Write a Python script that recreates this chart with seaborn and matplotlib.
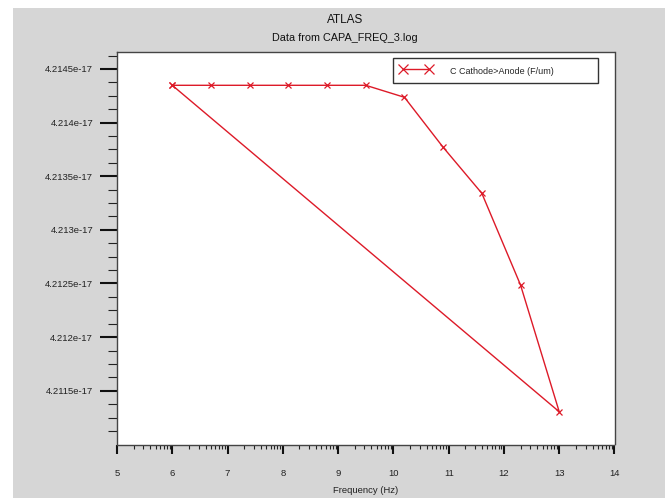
import numpy as np
import pandas as pd
import matplotlib
matplotlib.use("Agg")
import matplotlib.pyplot as plt
from matplotlib.ticker import FixedLocator, FuncFormatter
from matplotlib.patches import Rectangle
import seaborn as sns

# ---- data ----
freq = [6.0, 6.7, 7.4, 8.1, 8.8, 9.5, 10.2, 10.9, 11.6, 12.3, 13.0, 6.0]
cap = [4.214348e-17, 4.214348e-17, 4.214348e-17, 4.214348e-17, 4.214348e-17,
       4.214348e-17, 4.214236e-17, 4.213770e-17, 4.213341e-17, 4.212486e-17,
       4.211304e-17, 4.214348e-17]
series_label = "C Cathode>Anode (F/um)"
x_ticks = [5, 6, 7, 8, 9, 10, 11, 12, 13, 14]
y_ticks = [4.2115e-17, 4.212e-17, 4.2125e-17, 4.213e-17, 4.2135e-17, 4.214e-17, 4.2145e-17]
title = "ATLAS"
subtitle = "Data from CAPA_FREQ_3.log"
xlabel = "Frequency (Hz)"

df = pd.DataFrame({"freq": freq, "cap": cap})

sns.set_style("white")
plt.rcParams["font.family"] = ["Liberation Sans", "DejaVu Sans"]

W, H = 665, 498
fig = plt.figure(figsize=(W / 100, H / 100), dpi=100, facecolor="#d6d6d6")
# white strips at top/left as in the reference screenshot
fig.patches.append(Rectangle((0, 1 - 8 / H), 1, 8 / H, transform=fig.transFigure,
                             facecolor="white", edgecolor="none", zorder=-1))
fig.patches.append(Rectangle((0, 0), 13 / W, 1, transform=fig.transFigure,
                             facecolor="white", edgecolor="none", zorder=-1))

L, R, T, B = 117, 614.5, 52, 444.5
ax = fig.add_axes([L / W, 1 - B / H, (R - L) / W, (B - T) / H])
ax.set_facecolor("white")

red = "#dd1a28"
sns.lineplot(data=df, x="freq", y="cap", sort=False, estimator=None, ax=ax,
             color=red, lw=1.0, marker="x", markersize=5,
             markeredgecolor=red, markeredgewidth=0.9, label=series_label)

ax.set_xlim(5, 14)
ax.set_ylim(4.2109986e-17, 4.2146585e-17)

ax.xaxis.set_major_locator(FixedLocator(x_ticks))
ax.xaxis.set_minor_locator(FixedLocator(
    [n + np.log10(k) for n in x_ticks[:-1] for k in range(2, 10)]))
ax.xaxis.set_major_formatter(FuncFormatter(lambda v, p: f"{v:g}"))

step = (y_ticks[1] - y_ticks[0]) / 4
ax.yaxis.set_major_locator(FixedLocator(y_ticks))
ax.yaxis.set_minor_locator(FixedLocator(
    [y_ticks[0] - 3 * step + i * step for i in range(30)]))
ax.yaxis.set_major_formatter(FuncFormatter(lambda v, p: f"{v * 1e17:.5g}e-17"))

ax.tick_params(axis="y", which="major", direction="out", length=12.2, width=1.5,
               pad=5, labelsize=6.8, color="#111111", labelcolor="#222222", left=True)
ax.tick_params(axis="y", which="minor", direction="out", length=6.5, width=0.8,
               color="#222222", left=True)
ax.tick_params(axis="x", which="major", direction="out", length=6.8, width=1.5,
               pad=10.5, labelsize=6.8, color="#111111", labelcolor="#222222", bottom=True)
ax.tick_params(axis="x", which="minor", direction="out", length=3.2, width=0.8,
               color="#222222", bottom=True)

for s in ax.spines.values():
    s.set_color("#444444")
    s.set_linewidth(1.0)

ax.set_ylabel("")
ax.set_xlabel(xlabel, fontsize=6.8, color="#222222", va="center")
ax.xaxis.set_label_coords(0.5, (B - 490) / (B - T))

fig.text(345 / W, 1 - 20 / H, title, ha="center", va="center", fontsize=8.5, color="#111111")
fig.text(345 / W, 1 - 38 / H, subtitle, ha="center", va="center", fontsize=7.8, color="#111111")

lx0 = (393 - L) / (R - L)
lx1 = (598 - L) / (R - L)
ly0 = 1 - (58 - T) / (B - T)
ly1 = 1 - (87 - T) / (B - T)
leg = ax.legend(loc="upper left", bbox_to_anchor=(lx0, ly1, lx1 - lx0, ly0 - ly1),
                mode="expand", borderaxespad=0, numpoints=2, handlelength=3.5,
                handleheight=1.5, handletextpad=2.0, borderpad=0.8, fancybox=False,
                framealpha=1, edgecolor="#333333", fontsize=6.5)
leg.get_frame().set_linewidth(1.0)
for h in leg.legend_handles:
    h.set_markersize(7)

fig.savefig("out.png", dpi=100, facecolor=fig.get_facecolor())
